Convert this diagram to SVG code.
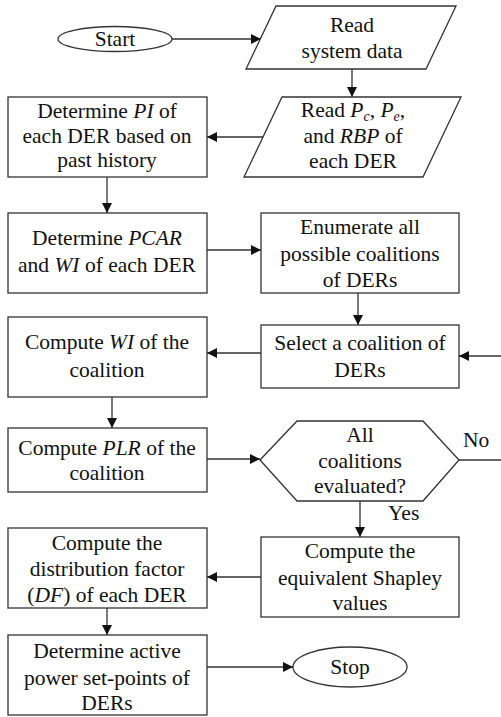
<svg xmlns="http://www.w3.org/2000/svg" width="501" height="717" viewBox="0 0 501 717">
<style>
.s{fill:#fff;stroke:#333;stroke-width:1.3}
.c{fill:none;stroke:#333;stroke-width:1.3}
text{font-family:"Liberation Serif","Times New Roman",serif;font-size:21.5px;fill:#111;text-anchor:middle}
.i{font-style:italic}
.sub{font-size:14px;font-style:italic}
</style>
<defs>
<marker id="a" viewBox="0 0 10 10" refX="10" refY="5" markerWidth="11" markerHeight="10" markerUnits="userSpaceOnUse" orient="auto">
<path d="M0,0 L10,5 L0,10 z" fill="#111"/>
</marker>
</defs>
<rect width="501" height="717" fill="#fff"/>
<g id="connectors">
<path class="c" d="M172,39 H261" marker-end="url(#a)"/>
<path class="c" d="M352,69 V97" marker-end="url(#a)"/>
<path class="c" d="M263,137 H207" marker-end="url(#a)"/>
<path class="c" d="M107,177 V213" marker-end="url(#a)"/>
<path class="c" d="M207,250 H261" marker-end="url(#a)"/>
<path class="c" d="M358,293 V325" marker-end="url(#a)"/>
<path class="c" d="M261,353 H207" marker-end="url(#a)"/>
<path class="c" d="M112,397 V428" marker-end="url(#a)"/>
<path class="c" d="M207,459 H260" marker-end="url(#a)"/>
<path class="c" d="M459,460 H501"/>
<path class="c" d="M501,356 H459" marker-end="url(#a)"/>
<path class="c" d="M360,501 V537" marker-end="url(#a)"/>
<path class="c" d="M261,577 H207" marker-end="url(#a)"/>
<path class="c" d="M107,608 V635" marker-end="url(#a)"/>
<path class="c" d="M207,667 H293" marker-end="url(#a)"/>
<text x="463" y="447" style="text-anchor:start">No</text>
<text x="388" y="520" style="text-anchor:start">Yes</text>
</g>
<g id="start">
<ellipse class="s" cx="115" cy="39" rx="57" ry="12.5"/>
<text x="115" y="46">Start</text>
</g>
<g id="read-system">
<polygon class="s" points="276,6 456,6 426,69 246,69"/>
<text x="352" y="32">Read</text>
<text x="352" y="58">system data</text>
</g>
<g id="read-pc">
<polygon class="s" points="282,97 461,97 423,177 244,177"/>
<text x="353" y="117">Read <tspan class="i">P</tspan><tspan class="sub" dy="4">c</tspan><tspan dy="-4">, </tspan><tspan class="i">P</tspan><tspan class="sub" dy="4">e</tspan><tspan dy="-4">,</tspan></text>
<text x="353" y="143">and <tspan class="i">RBP</tspan> of</text>
<text x="353" y="168">each DER</text>
</g>
<g id="determine-pi">
<rect class="s" x="8" y="97" width="199" height="80"/>
<text x="107" y="118">Determine <tspan class="i">PI</tspan> of</text>
<text x="107" y="143">each DER based on</text>
<text x="107" y="167">past history</text>
</g>
<g id="determine-pcar">
<rect class="s" x="8" y="213" width="199" height="80"/>
<text x="107" y="245">Determine <tspan class="i">PCAR</tspan></text>
<text x="107" y="272">and <tspan class="i">WI</tspan> of each DER</text>
</g>
<g id="enumerate">
<rect class="s" x="261" y="213" width="198" height="80"/>
<text x="360" y="234">Enumerate all</text>
<text x="360" y="261">possible coalitions</text>
<text x="360" y="287">of DERs</text>
</g>
<g id="select">
<rect class="s" x="261" y="325" width="198" height="63"/>
<text x="360" y="350">Select a coalition of</text>
<text x="360" y="377">DERs</text>
</g>
<g id="compute-wi">
<rect class="s" x="8" y="317" width="199" height="80"/>
<text x="107" y="349">Compute <tspan class="i">WI</tspan> of the</text>
<text x="107" y="377">coalition</text>
</g>
<g id="compute-plr">
<rect class="s" x="8" y="428" width="199" height="64"/>
<text x="107" y="455">Compute <tspan class="i">PLR</tspan> of the</text>
<text x="107" y="480">coalition</text>
</g>
<g id="decision">
<polygon class="s" points="260,460 297,421 423,421 459,460 423,501 297,501"/>
<text x="360" y="442">All</text>
<text x="360" y="468">coalitions</text>
<text x="360" y="493">evaluated?</text>
</g>
<g id="shapley">
<rect class="s" x="261" y="537" width="198" height="80"/>
<text x="360" y="558">Compute the</text>
<text x="360" y="585">equivalent Shapley</text>
<text x="360" y="610">values</text>
</g>
<g id="compute-df">
<rect class="s" x="8" y="528" width="199" height="80"/>
<text x="107" y="550">Compute the</text>
<text x="107" y="576">distribution factor</text>
<text x="107" y="602">(<tspan class="i">DF</tspan>) of each DER</text>
</g>
<g id="active-power">
<rect class="s" x="8" y="635" width="199" height="80"/>
<text x="107" y="658">Determine active</text>
<text x="107" y="685">power set-points of</text>
<text x="107" y="710">DERs</text>
</g>
<g id="stop">
<ellipse class="s" cx="350" cy="667" rx="57" ry="20"/>
<text x="350" y="674">Stop</text>
</g>
</svg>
